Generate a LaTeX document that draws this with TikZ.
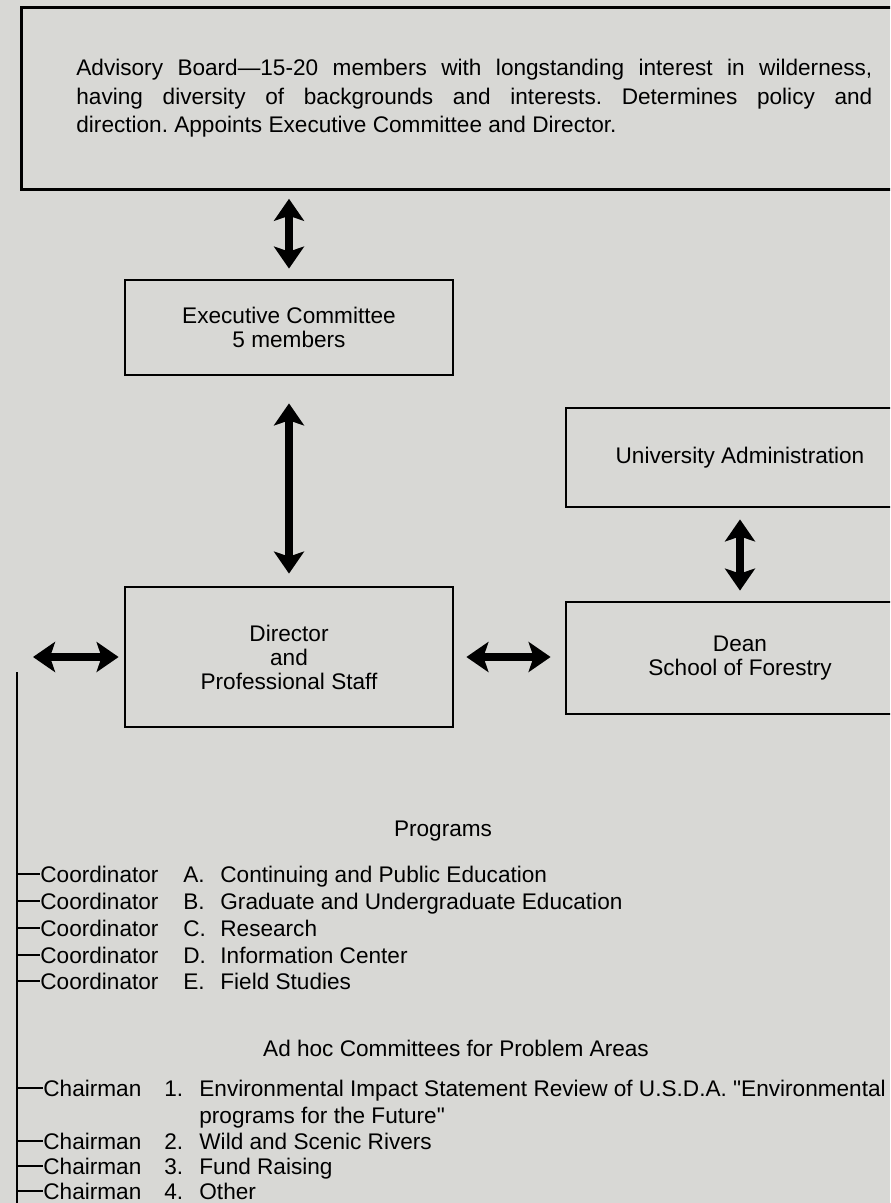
\documentclass[tikz,border=0pt]{standalone}
\usepackage{fontspec}
\setmainfont{Liberation Sans}[Ligatures=ResetAll]
\usetikzlibrary{arrows.meta}
\definecolor{paper}{RGB}{216,216,213}
\newcommand{\boxfont}{\fontsize{11.3}{12}\selectfont}
\newcommand{\boardfont}{\fontsize{11.3}{14.25}\selectfont\frenchspacing}
\newcommand{\coordline}[4]{\node[itemtext] (#2) at (40,#1) {Coordinator};
  \node[itemtext] (#2l) at (183,#1) {#3};
  \node[itemtext] (#2t) at (220,#1) {#4};
  \draw[tick] (spinetop |- #2.west) -- (#2.west);}
\newcommand{\chairline}[4]{\node[itemtext] (#2) at (43,#1) {Chairman};
  \node[itemtext] (#2l) at (164,#1) {#3};
  \node[itemtext] (#2t) at (199,#1) {#4};
  \draw[tick] (spinetop |- #2.west) -- (#2.west);}
\tikzset{
  orgbox/.style={draw, line width=1.4pt, align=center, font=\boxfont},
  plain/.style={font=\boxfont},
  itemtext/.style={anchor=base west, inner sep=0pt, font=\boxfont},
  tick/.style={line width=0.9pt},
  dblarrow/.style={line width=3.6pt,
    {Stealth[length=11pt,width=15pt,inset=2.5pt]}-{Stealth[length=11pt,width=15pt,inset=2.5pt]}},
}
\begin{document}
\begin{tikzpicture}[x=0.5pt,y=-0.5pt]
\useasboundingbox (0,0) rectangle (890,1203);
\clip (0,0) rectangle (890,1203);
\fill[paper] (0,0) rectangle (890,1203);
% boxes
\node[orgbox, anchor=north west, text width=398pt, inner xsep=27.5pt, minimum height=91pt,
  align=justify, font=\boardfont] (board) at (20,6)
  {Advisory Board—15-20 members with longstanding interest in wilderness,\linebreak
   having diversity of backgrounds and interests. Determines policy and\linebreak
   direction. Appoints Executive Committee and Director.};
\node[orgbox, minimum width=164pt, minimum height=47.5pt] (exec) at (289,327.5) {Executive Committee\\5 members};
\node[orgbox, minimum width=164pt, minimum height=70pt] (dir) at (289,657) {Director\\and\\Professional Staff};
\node[orgbox, minimum width=174pt, minimum height=49.5pt] (univ) at (740,457.5) {University Administration};
\node[orgbox, minimum width=174pt, minimum height=56pt] (dean) at (740,658) {Dean\\School of Forestry};
% arrows
\coordinate (leftend) at (33,657);
\draw[dblarrow, shorten <=4pt, shorten >=5pt] (exec.north |- board.south) -- (exec.north);
\draw[dblarrow, shorten <=13.5pt, shorten >=6pt] (exec.south) -- (dir.north);
\draw[dblarrow, shorten <=5.5pt, shorten >=5pt] (univ.south) -- (dean.north);
\draw[dblarrow, shorten <=6pt, shorten >=7pt] (dir.east) -- (dir.east -| dean.west);
\draw[dblarrow, shorten <=2.5pt] (dir.west) -- (leftend);
% spine
\coordinate (spinetop) at (17,672);
\coordinate (spinebot) at (17,1203);
\draw[line width=1pt] (spinetop) -- (spinebot);
% programs
\node[plain] (proghead) at (443,831) {Programs};
\coordline{882}{pa}{A.}{Continuing and Public Education}
\coordline{909}{pb}{B.}{Graduate and Undergraduate Education}
\coordline{936}{pc}{C.}{Research}
\coordline{963}{pd}{D.}{Information Center}
\coordline{989}{pe}{E.}{Field Studies}
% ad hoc committees
\node[plain] (adhoc) at (456,1048) {Ad hoc Committees for Problem Areas};
\chairline{1096}{ca}{1.}{Environmental Impact Statement Review of U.S.D.A. \textquotedbl Environmental}
\node[itemtext] (catt) at (199,1123) {programs for the Future\textquotedbl};
\chairline{1149}{cb}{2.}{Wild and Scenic Rivers}
\chairline{1174}{cc}{3.}{Fund Raising}
\chairline{1199}{cd}{4.}{Other}
\end{tikzpicture}
\end{document}
